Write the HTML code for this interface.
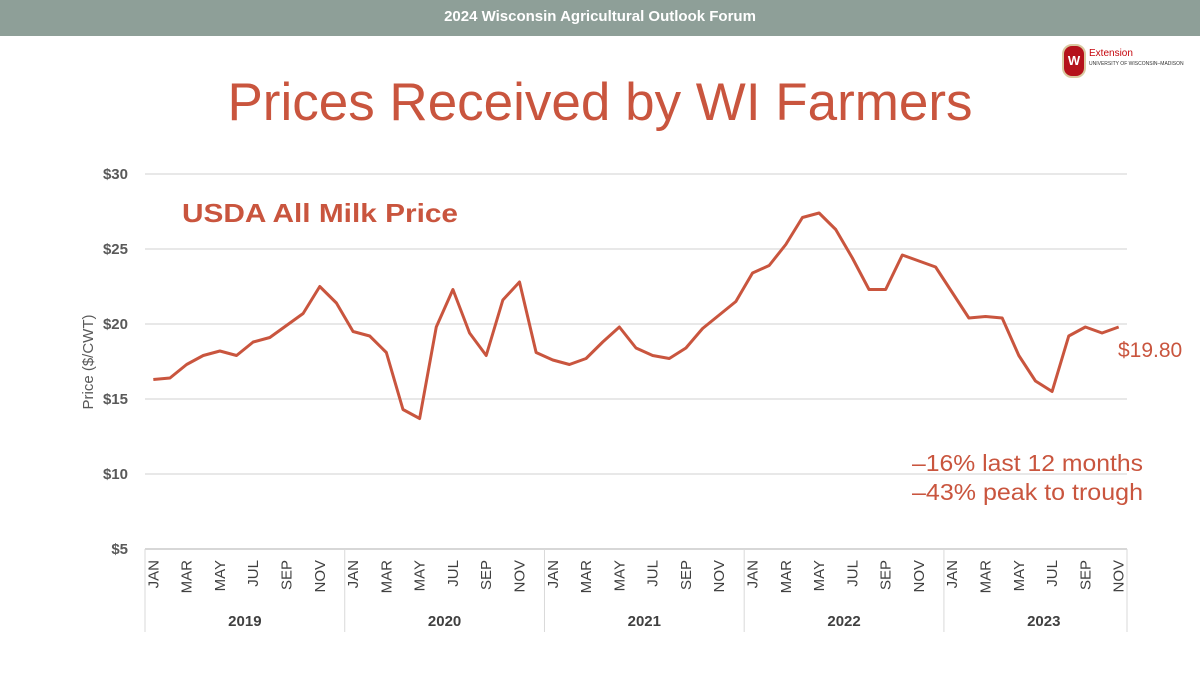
<!DOCTYPE html>
<html><head><meta charset="utf-8"><style>
body{margin:0;width:1200px;height:675px;background:#fff;font-family:"Liberation Sans",sans-serif;overflow:hidden;position:relative}
#hdr{position:absolute;left:0;top:0;width:1200px;height:36px;background:#8e9f98;color:#fff;font-weight:bold;font-size:15px;text-align:center;line-height:34px}
#title{position:absolute;left:0;width:1200px;top:72px;text-align:center;font-size:53px;color:#c9553e}
</style></head><body>
<div id="hdr">2024 Wisconsin Agricultural Outlook Forum</div>
<div id="title">Prices Received by WI Farmers</div>
<div style="position:absolute;left:1062px;top:44px;width:130px;height:32px">
<div style="position:absolute;left:0;top:0;width:20px;height:30px;background:#b5121b;border-radius:10px;border:2px solid #d9c9a0;color:#fff;font-size:13px;font-weight:bold;text-align:center;line-height:30px">W</div>
<div style="position:absolute;left:27px;top:4px;font-size:10px;color:#c5050c">Extension</div>
<div style="position:absolute;left:27px;top:17px;font-size:5px;color:#333;white-space:nowrap">UNIVERSITY OF WISCONSIN–MADISON</div></div>
<svg id="chart" width="1200" height="675" style="position:absolute;left:0;top:0"></svg>
<script>
const years=["2019","2020","2021","2022","2023"];
const monthNames=["JAN","FEB","MAR","APR","MAY","JUN","JUL","AUG","SEP","OCT","NOV","DEC"];
const yTicks=[5,10,15,20,25,30];
const prices=[16.3,16.4,17.3,17.9,18.2,17.9,18.8,19.1,19.9,20.7,22.5,21.4,
19.5,19.2,18.1,14.3,13.7,19.8,22.3,19.4,17.9,21.6,22.8,18.1,
17.6,17.3,17.7,18.8,19.8,18.4,17.9,17.7,18.4,19.7,20.6,21.5,
23.4,23.9,25.3,27.1,27.4,26.3,24.4,22.3,22.3,24.6,24.2,23.8,
22.1,20.4,20.5,20.4,17.9,16.2,15.5,19.2,19.8,19.4,19.8];
const svg=document.getElementById('chart');const NS="http://www.w3.org/2000/svg";
const x0=145,x1=1127,y0=549,y1=174,step=(x1-x0)/59;
const X=i=>x0+step*(i+0.5);
const Y=v=>y0-(v-5)/(30-5)*(y0-y1);
function mk(t,a,txt){const e=document.createElementNS(NS,t);for(const k in a)e.setAttribute(k,a[k]);if(txt!=null)e.textContent=txt;svg.appendChild(e);return e;}
yTicks.forEach(v=>{
const g=mk('line',{x1:x0,x2:x1,y1:Y(v),y2:Y(v),stroke:v==5?'#bfbfbf':'#d9d9d9','stroke-width':1.2});


const t=mk('text',{x:128,y:Y(v)+5,'text-anchor':'end','font-size':15,'font-weight':'bold',fill:'#595959'},'$'+v);


});
const yt=mk('text',{transform:'translate(93,362) rotate(-90)','text-anchor':'middle','font-size':15,fill:'#595959'},'Price ($/CWT)');


for(let i=0;i<prices.length;i++){
if(i%2==0){const t=mk('text',{transform:`translate(${X(i)+5},560) rotate(-90)`,'text-anchor':'end','font-size':15,fill:'#404040'},monthNames[i%12]);

}
}
years.forEach((yr,k)=>{
const lx=x0+step*12*k;
const l=mk('line',{x1:lx,x2:lx,y1:549,y2:632,stroke:'#d9d9d9','stroke-width':1});


const t=mk('text',{x:lx+step*6,y:626,'text-anchor':'middle','font-size':15,'font-weight':'bold',fill:'#404040'},yr);


});
const le=mk('line',{x1:x1,x2:x1,y1:549,y2:632,stroke:'#d9d9d9','stroke-width':1});


const p=mk('polyline',{points:prices.map((v,i)=>X(i)+','+Y(v)).join(' '),fill:'none',stroke:'#c9553e','stroke-width':3,'stroke-linejoin':'round'});


const s=mk('text',{x:182,y:222,'font-size':26,'font-weight':'bold',fill:'#c9553e',textLength:276,lengthAdjust:'spacingAndGlyphs'},'USDA All Milk Price');


const lv=mk('text',{x:1118,y:357,'font-size':21,fill:'#c9553e'},'$'+prices[prices.length-1].toFixed(2));


const a1=mk('text',{x:1143,y:471,'text-anchor':'end','font-size':23,fill:'#c9553e',textLength:231,lengthAdjust:'spacingAndGlyphs'},'–16% last 12 months');


const a2=mk('text',{x:1143,y:500,'text-anchor':'end','font-size':23,fill:'#c9553e',textLength:231,lengthAdjust:'spacingAndGlyphs'},'–43% peak to trough');


</script>
</body></html>
